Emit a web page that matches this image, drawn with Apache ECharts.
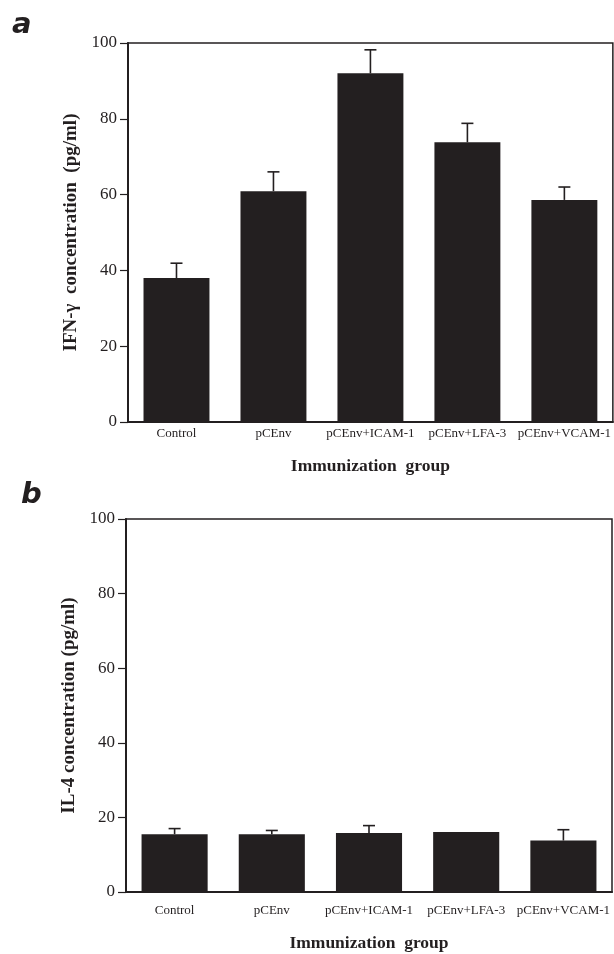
<!DOCTYPE html>
<html lang="en">
  <head>
    <meta charset="UTF-8" />
    <script src="https://cdn.jsdelivr.net/npm/echarts@6/dist/echarts.min.js"></script>
    <title>IFN-γ / IL-4</title>
    <style>
      html, body { margin: 0; padding: 0; background: #fff; }
      #app { width: 614px; height: 954px; }
    </style>
  </head>
  <body>
    <div id="app"></div>
    <script>
      // groups shared by both panels
      const groups = ["Control", "pCEnv", "pCEnv+ICAM-1", "pCEnv+LFA-3", "pCEnv+VCAM-1"];
      // panel a: IFN-γ, mean and error (SE)
      const ifnMean = [38, 60.9, 92, 73.8, 58.6];
      const ifnErr = [3.9, 5.1, 6.2, 5.0, 3.4];
      // panel b: IL-4
      const il4Mean = [15.5, 15.5, 15.8, 16.1, 13.8];
      const il4Err = [1.5, 1.0, 2.0, 0, 2.9];
      const yTicks = [0, 20, 40, 60, 80, 100];

      const serif = "Liberation Serif";
      const ink = "#231f20";

      const echart = echarts.init(document.getElementById("app"), null, { renderer: "canvas" });

      // T-shaped upper error bar
      function errRender(params, api) {
        const i = api.value(0);
        const top = api.value(2);
        if (api.value(2) <= api.value(1)) return null;
        const p0 = api.coord([i, api.value(1)]);
        const p1 = api.coord([i, top]);
        const cap = 6;
        return {
          type: "group",
          children: [
            { type: "line", shape: { x1: p0[0], y1: p0[1], x2: p1[0], y2: p1[1] }, style: { stroke: ink, lineWidth: 1.6 } },
            { type: "line", shape: { x1: p1[0] - cap, y1: p1[1], x2: p1[0] + cap, y2: p1[1] }, style: { stroke: ink, lineWidth: 1.6 } },
          ],
        };
      }

      function xAxisFor(gridIndex, margin, nameGap) {
        return {
          type: "category",
          gridIndex: gridIndex,
          data: groups,
          name: "Immunization  group",
          nameLocation: "middle",
          nameGap: nameGap,
          nameTextStyle: { fontFamily: serif, fontWeight: "bold", fontSize: 17.5, color: ink },
          axisLine: { lineStyle: { color: ink, width: 2 } },
          axisTick: { alignWithLabel: true, length: 8, lineStyle: { color: ink, width: 1.2 } },
          axisLabel: { interval: 0, margin: margin, fontFamily: serif, fontSize: 13, color: ink },
          splitLine: { show: false },
        };
      }

      function yAxisFor(gridIndex, name, nameGap) {
        return {
          type: "value",
          gridIndex: gridIndex,
          min: 0,
          max: 100,
          interval: 20,
          name: name,
          nameLocation: "middle",
          nameGap: nameGap,
          nameTextStyle: { fontFamily: serif, fontWeight: "bold", fontSize: 19, color: ink },
          axisLine: { show: true, lineStyle: { color: ink, width: 2 } },
          axisTick: { show: true, length: 8, lineStyle: { color: ink, width: 1.2 } },
          axisLabel: {
            margin: 11,
            fontFamily: serif,
            fontSize: 17,
            color: ink,
            formatter: (v) => (yTicks.indexOf(v) >= 0 ? String(v) : ""),
          },
          splitLine: { show: false },
        };
      }

      echart.setOption({
        animation: false,
        graphic: [
          { type: "text", left: 12, top: 11, style: { text: "a", font: "italic bold 29px 'DejaVu Sans'", fill: ink } },
          { type: "text", left: 21, top: 481, style: { text: "b", font: "italic bold 29px 'DejaVu Sans'", fill: ink } },
        ],
        grid: [
          { left: 128, right: 1, top: 43, height: 379, show: true, borderColor: ink, borderWidth: 1.5, backgroundColor: "transparent" },
          { left: 126, right: 2, top: 519, height: 373, show: true, borderColor: ink, borderWidth: 1.5, backgroundColor: "transparent" },
        ],
        xAxis: [xAxisFor(0, 5, 35), xAxisFor(1, 12, 42)],
        yAxis: [
          yAxisFor(0, "IFN-γ  concentration  (pg/ml)", 44),
          yAxisFor(1, "IL-4 concentration (pg/ml)", 45),
        ],
        series: [
          {
            type: "bar",
            xAxisIndex: 0,
            yAxisIndex: 0,
            data: ifnMean,
            barWidth: "68%",
            itemStyle: { color: ink },
            z: 2,
          },
          {
            type: "custom",
            xAxisIndex: 0,
            yAxisIndex: 0,
            renderItem: errRender,
            data: ifnMean.map((m, i) => [i, m, m + ifnErr[i]]),
            z: 3,
          },
          {
            type: "bar",
            xAxisIndex: 1,
            yAxisIndex: 1,
            data: il4Mean,
            barWidth: "68%",
            itemStyle: { color: ink },
            z: 2,
          },
          {
            type: "custom",
            xAxisIndex: 1,
            yAxisIndex: 1,
            renderItem: errRender,
            data: il4Mean.map((m, i) => [i, m, m + il4Err[i]]),
            z: 3,
          },
        ],
      });
    </script>
  </body>
</html>
